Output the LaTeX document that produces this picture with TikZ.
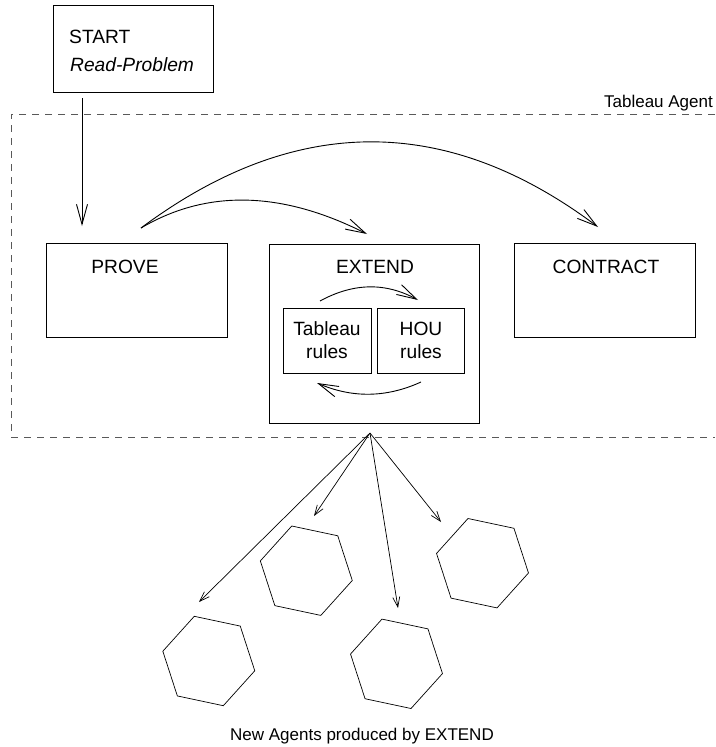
\documentclass[tikz,border=0pt]{standalone}
\usepackage{fontspec}
\setmainfont{Liberation Sans}
\usetikzlibrary{arrows.meta,shapes.geometric,calc}
\begin{document}
\begin{tikzpicture}[x=1pt,y=-1pt,
  box/.style={draw,line width=1pt,inner sep=0pt,anchor=north west},
  big/.style={font=\fontsize{19.2}{23}\selectfont,inner sep=0pt},
  small/.style={font=\fontsize{17}{20}\selectfont,inner sep=0pt},
  bigarr/.style={line width=0.9pt,-{Straight Barb[length=20pt,width=11pt,line width=0.9pt]}},
  fanarr/.style={line width=0.7pt,-{Straight Barb[length=10pt,width=7pt,line width=0.7pt]}},
  hex/.style={draw,line width=0.7pt,regular polygon,regular polygon sides=6,minimum size=94pt,inner sep=0pt,rotate=-12},
  agent/.style={draw=black!65,dash pattern=on 7pt off 6pt,line width=0.9pt}
]
\useasboundingbox (0,0) rectangle (715,747);
% Tableau agent region
\draw[agent] (715,114) -- (11,114) -- (11,437) -- (715,437);
\node[small,anchor=base east] (lblagent) at (713,107) {Tableau Agent};
% START
\node[box,minimum width=160pt,minimum height=87pt] (start) at (53,5) {};
\node[big,anchor=base west] (starttxt) at (69,43) {START};
\node[big,anchor=base west] (readtxt) at (70,71) {\itshape Read-Problem};
% main boxes
\node[box,minimum width=181pt,minimum height=94pt] (prove) at (46,243) {};
\node[big,anchor=base] (provetxt) at (125,273) {PROVE};
\node[box,minimum width=210pt,minimum height=179pt] (extend) at (269,244) {};
\node[big,anchor=base] (extendtxt) at (375,273) {EXTEND};
\node[box,minimum width=181pt,minimum height=94pt] (contract) at (514,243) {};
\node[big,anchor=base] (contracttxt) at (606,273) {CONTRACT};
\node[box,minimum width=88pt,minimum height=65pt] (tab) at (283,308) {};
\node[big,anchor=base] (tab1) at (327,335) {Tableau};
\node[big,anchor=base] (tab2) at (327,358) {rules};
\node[box,minimum width=87pt,minimum height=65pt] (hou) at (377,308) {};
\node[big,anchor=base] (hou1) at (421,335) {HOU};
\node[big,anchor=base] (hou2) at (421,358) {rules};
% START -> PROVE
\coordinate (sa) at ($(start.south west)+(29,5)$);
\coordinate (sb) at ($(prove.north west)+(36,-17)$);
\draw[bigarr] (sa) -- (sb);
% PROVE -> EXTEND, PROVE -> CONTRACT
\coordinate (pf) at ($(prove.north west)+(95,-15)$);
\coordinate (pe) at ($(extend.north west)+(98,-10)$);
\coordinate (pc) at ($(contract.north west)+(84,-16)$);
\draw[bigarr] (pf) .. controls (207,189) and (282,191) .. (pe);
\draw[bigarr] (pf) .. controls (294,114) and (446,113) .. (pc);
% inside EXTEND
\coordinate (t1) at ($(tab.north west)+(37,-7)$);
\coordinate (t2) at ($(hou.north west)+(41,-8)$);
\draw[bigarr] (t1) .. controls (353,283) and (385,282) .. (t2);
\coordinate (b1) at ($(hou.south west)+(44,8)$);
\coordinate (b2) at ($(tab.south west)+(34,9)$);
\draw[bigarr] (b1) .. controls (386,398) and (352,398) .. (b2);
% new agents
\node[hex] (h1) at (208.8,661) {};
\node[hex] (h2) at (306.3,570.7) {};
\node[hex] (h3) at (396.5,663.8) {};
\node[hex] (h4) at (482.5,563.2) {};
\coordinate (src) at ($(extend.south west)+(101,9)$);
\coordinate (e1) at ($(h1.center)+(-9.8,-59)$);
\coordinate (e2) at ($(h2.center)+(7.7,-54.7)$);
\coordinate (e3) at ($(h3.center)+(1.5,-55.8)$);
\coordinate (e4) at ($(h4.center)+(-41.5,-41.2)$);
\draw[fanarr] (src) -- (e1);
\draw[fanarr] (src) -- (e2);
\draw[fanarr] (src) -- (e3);
\draw[fanarr] (src) -- (e4);
\node[small,anchor=base] (newlbl) at (362,740) {New Agents produced by EXTEND};
\end{tikzpicture}
\end{document}
